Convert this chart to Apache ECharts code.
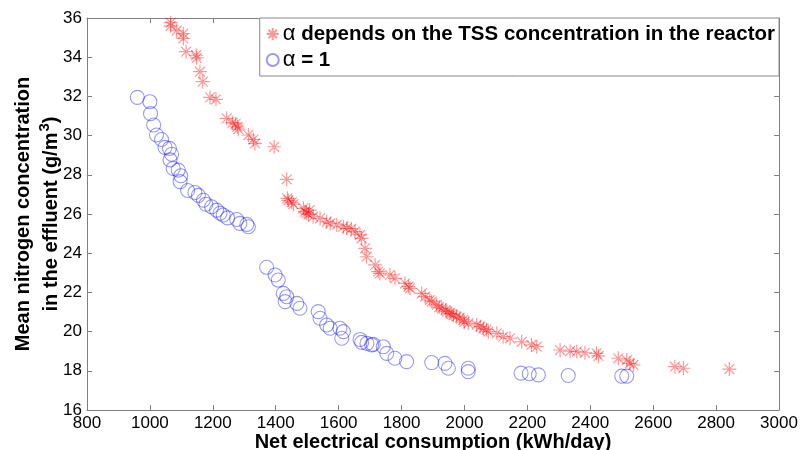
<!DOCTYPE html>
<html><head><meta charset="utf-8">
<script src="https://cdn.jsdelivr.net/npm/echarts@6/dist/echarts.min.js"></script>
<style>html,body{margin:0;padding:0;background:#fff}#c{width:801px;height:450px}</style>
</head><body><div id="c"></div>
<script>
const xTicks = [800,1000,1200,1400,1600,1800,2000,2200,2400,2600,2800,3000];
const yTicks = [16,18,20,22,24,26,28,30,32,34,36];
const seriesNames = ['α depends on the TSS concentration in the reactor', 'α = 1'];
const redX = [1066,1066,1085,1106,1106,1115,1147,1149,1159,1168,1191,1210,1244,1263,1272,1278,1281,1313,1329,1334,1395,1435,1437,1440,1451,1456,1488,1493,1498,1504,1508,1519,1541,1562,1573,1594,1615,1626,1640,1652,1668,1673,1684,1689,1716,1726,1731,1763,1779,1811,1822,1827,1864,1875,1890,1896,1912,1920,1928,1940,1944,1954,1960,1965,1975,1985,1996,2000,2012,2039,2050,2060,2070,2076,2103,2123,2145,2182,2213,2230,2304,2336,2357,2383,2420,2426,2489,2516,2526,2537,2669,2696,2842];
const redY = [35.76,35.6,35.35,35.2,34.96,34.28,34.1,33.97,33.26,32.75,31.95,31.85,30.88,30.66,30.6,30.45,30.33,30.03,29.8,29.6,29.43,27.77,26.8,26.7,26.6,26.5,26.29,26.12,26.04,25.98,26.2,25.86,25.78,25.6,25.52,25.44,25.35,25.27,25.25,25.1,24.93,24.76,24.25,23.82,23.4,23.06,22.97,22.89,22.72,22.46,22.29,22.21,21.95,21.78,21.6,21.53,21.36,21.25,21.19,21.1,21.02,20.93,20.9,20.85,20.76,20.7,20.6,20.5,20.42,20.34,20.25,20.17,20.1,20.0,19.91,19.74,19.66,19.48,19.32,19.23,19.06,19.0,18.98,18.92,18.89,18.76,18.64,18.55,18.38,18.3,18.21,18.13,18.09];
const blueX = [960,1000,1002,1012,1021,1037,1048,1062,1069,1064,1074,1090,1098,1096,1120,1143,1154,1170,1178,1196,1212,1223,1233,1247,1276,1286,1308,1313,1371,1398,1408,1424,1435,1430,1467,1477,1535,1541,1562,1573,1604,1615,1610,1668,1673,1690,1705,1710,1742,1753,1779,1816,1896,1938,1949,2012,2012,2180,2206,2235,2330,2500,2516];
const blueY = [31.95,31.73,31.12,30.54,30.03,29.8,29.4,29.35,29.05,28.76,28.33,28.24,27.95,27.65,27.2,27.1,26.95,26.7,26.5,26.37,26.2,26.04,25.95,25.8,25.72,25.52,25.47,25.35,23.28,22.89,22.63,21.95,21.78,21.53,21.44,21.19,21.02,20.68,20.34,20.17,20.17,20.0,19.66,19.6,19.45,19.4,19.32,19.35,19.23,18.89,18.64,18.47,18.42,18.38,18.13,18.13,17.96,17.88,17.85,17.79,17.76,17.73,17.73];

const zip = (a,b) => a.map((v,i)=>[v,b[i]]);
const star = 'path://M0,-10L0,10M-10,0L10,0M-7.07,-7.07L7.07,7.07M-7.07,7.07L7.07,-7.07';
const FONT = '"Liberation Sans", Arial, sans-serif';
const axisCol = '#808080';
const chart = echarts.init(document.getElementById('c'), null, {renderer:'canvas'});
const baseAxis = {
  axisLine:{show:true, onZero:false, lineStyle:{color:axisCol, width:1}},
  axisTick:{show:true, inside:true, length:5, lineStyle:{color:axisCol}},
  splitLine:{show:false}
};
chart.setOption({
  animation:false,
  backgroundColor:'#fff',
  grid:{left:87, right:22, top:18, bottom:40, containLabel:false, outerBoundsMode:'none'},
  legend:{
    orient:'vertical', right:22, top:18, padding:[5,4,5,6], itemGap:4,
    backgroundColor:'#fff', borderColor:'#888', borderWidth:1, borderRadius:0,
    itemWidth:12, itemHeight:12,
    data:seriesNames,
    formatter: n => n.replace('α', '{a|α}'),
    textStyle:{fontFamily:FONT, fontSize:20.5, fontWeight:'bold', color:'#000', padding:[0,0,0,-1],
      rich:{a:{fontFamily:FONT, fontSize:22, fontWeight:'normal', color:'#000'}}}
  },
  xAxis:[
    Object.assign({}, baseAxis, {type:'value', min:800, max:3000, interval:200, position:'bottom',
      axisLabel:{color:'#000', fontFamily:FONT, fontSize:17, margin:5, formatter: v => String(v)},
      name:'Net electrical consumption (kWh/day)', nameLocation:'middle', nameGap:22, nameMoveOverlap:false,
      nameTextStyle:{fontFamily:FONT, fontSize:20, fontWeight:'bold', color:'#000'}}),
    Object.assign({}, baseAxis, {type:'value', min:800, max:3000, interval:200, position:'top',
      axisLabel:{show:false}})
  ],
  yAxis:[
    Object.assign({}, baseAxis, {type:'value', min:16, max:36, interval:2, position:'left',
      axisLabel:{color:'#000', fontFamily:FONT, fontSize:17, margin:5, formatter: v => String(v)},
      name:'Mean nitrogen concentration\nin the effluent (g/m{sup|3})', nameLocation:'middle', nameGap:22, nameMoveOverlap:false,
      nameTextStyle:{fontFamily:FONT, fontSize:20, fontWeight:'bold', color:'#000', lineHeight:28,
        rich:{sup:{fontFamily:FONT, fontSize:15, fontWeight:'bold', color:'#000', verticalAlign:'top', padding:[0,0,11,1]}}}}),
    Object.assign({}, baseAxis, {type:'value', min:16, max:36, interval:2, position:'right',
      axisLabel:{show:false}})
  ],
  series:[
    {name:seriesNames[0], type:'scatter', symbol:star, symbolSize:14,
     itemStyle:{color:'rgba(255,0,0,0)', borderColor:'rgba(255,0,0,0.5)', borderWidth:1.2},
     data:zip(redX, redY), z:3},
    {name:seriesNames[1], type:'scatter', symbol:'circle', symbolSize:14,
     itemStyle:{color:'rgba(0,0,255,0)', borderColor:'rgba(0,0,255,0.5)', borderWidth:1.1},
     data:zip(blueX, blueY), z:2}
  ]
});
</script></body></html>
